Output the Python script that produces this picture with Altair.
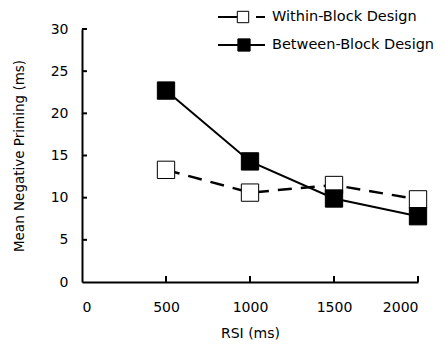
import altair as alt
import pandas as pd

rsi = [500, 1000, 1500, 2000]
within = [13.3, 10.6, 11.5, 9.8]
between = [22.7, 14.3, 9.9, 7.8]
series_names = ["Within-Block Design", "Between-Block Design"]
y_ticks = [0, 5, 10, 15, 20, 25, 30]
x_ticks = [0, 500, 1000, 1500, 2000]

FONT = "DejaVu Sans"

df_w = pd.DataFrame({"rsi": rsi, "v": within})
df_b = pd.DataFrame({"rsi": rsi, "v": between})

xs = alt.Scale(domain=[0, 2000])
ys = alt.Scale(domain=[0, 30])

xax = alt.Axis(values=x_ticks, format="d", tickSize=0, labelPadding=18, labelFontSize=14, labelFont=FONT,
               labelColor="black", domainColor="black", domainWidth=2, grid=False,
               title="RSI (ms)", titleFont=FONT, titleFontSize=14, titleFontWeight="normal",
               titlePadding=12, titleColor="black")
yax = alt.Axis(values=y_ticks, tickSize=0, labelPadding=14, labelFontSize=14, labelFont=FONT,
               labelColor="black", domainColor="black", domainWidth=2, grid=False,
               title="Mean Negative Priming (ms)", titleFont=FONT, titleFontSize=13.5,
               titleFontWeight="normal", titlePadding=24, titleColor="black")

base_w = alt.Chart(df_w).encode(x=alt.X("rsi:Q", scale=xs, axis=xax), y=alt.Y("v:Q", scale=ys, axis=yax))
base_b = alt.Chart(df_b).encode(x=alt.X("rsi:Q", scale=xs), y=alt.Y("v:Q", scale=ys))

line_w = base_w.mark_line(color="black", strokeWidth=2.5, strokeDash=[14, 9])
line_b = base_b.mark_line(color="black", strokeWidth=2)
pts_w = base_w.mark_point(shape="square", size=300, filled=True, fill="white", stroke="black", strokeWidth=1, opacity=1)
pts_b = base_b.mark_point(shape="square", size=300, filled=True, fill="black", stroke="black", strokeWidth=1, opacity=1)

yt = alt.Chart(pd.DataFrame({"t": y_ticks[1:]})).mark_rule(color="black", strokeWidth=2).encode(
    y=alt.Y("t:Q", scale=ys), x=alt.value(0), x2=alt.value(5))
xt = alt.Chart(pd.DataFrame({"t": x_ticks[1:]})).mark_rule(color="black", strokeWidth=2).encode(
    x=alt.X("t:Q", scale=xs), y=alt.value(253), y2=alt.value(247))

# legend (placed in pixel space above the plot)
leg_w = pd.DataFrame({"name": [series_names[0]]})
leg_b = pd.DataFrame({"name": [series_names[1]]})
Y0, Y1 = -12, 16
leg_line_w1 = alt.Chart(leg_w).mark_rule(color="black", strokeWidth=2).encode(
    x=alt.value(136), x2=alt.value(155), y=alt.value(Y0))
leg_line_w2 = alt.Chart(leg_w).mark_rule(color="black", strokeWidth=2).encode(
    x=alt.value(174), x2=alt.value(183), y=alt.value(Y0))
leg_line_b = alt.Chart(leg_b).mark_rule(color="black", strokeWidth=2).encode(
    x=alt.value(136), x2=alt.value(183), y=alt.value(Y1))
leg_sq_w = alt.Chart(leg_w).mark_point(shape="square", size=130, filled=True, fill="white",
                                       stroke="black", strokeWidth=1, opacity=1).encode(
    x=alt.value(161), y=alt.value(Y0))
leg_sq_b = alt.Chart(leg_b).mark_point(shape="square", size=150, filled=True, fill="black",
                                       stroke="black", strokeWidth=1, opacity=1).encode(
    x=alt.value(162), y=alt.value(Y1))
leg_txt_w = alt.Chart(leg_w).mark_text(align="left", baseline="middle", font=FONT, fontSize=14.5, color="black").encode(
    x=alt.value(190), y=alt.value(Y0), text="name:N")
leg_txt_b = alt.Chart(leg_b).mark_text(align="left", baseline="middle", font=FONT, fontSize=14.5, color="black").encode(
    x=alt.value(190), y=alt.value(Y1), text="name:N")

chart = alt.layer(line_w, line_b, pts_w, pts_b, yt, xt,
                  leg_line_w1, leg_line_w2, leg_line_b, leg_sq_w, leg_sq_b,
                  leg_txt_w, leg_txt_b).properties(
    width=336, height=253, autosize="none",
    padding={"left": 82, "top": 29, "right": 27, "bottom": 65},
    background="white").configure_view(stroke=None)

chart.save("out.html", embed_options={"renderer": "svg", "actions": False})
